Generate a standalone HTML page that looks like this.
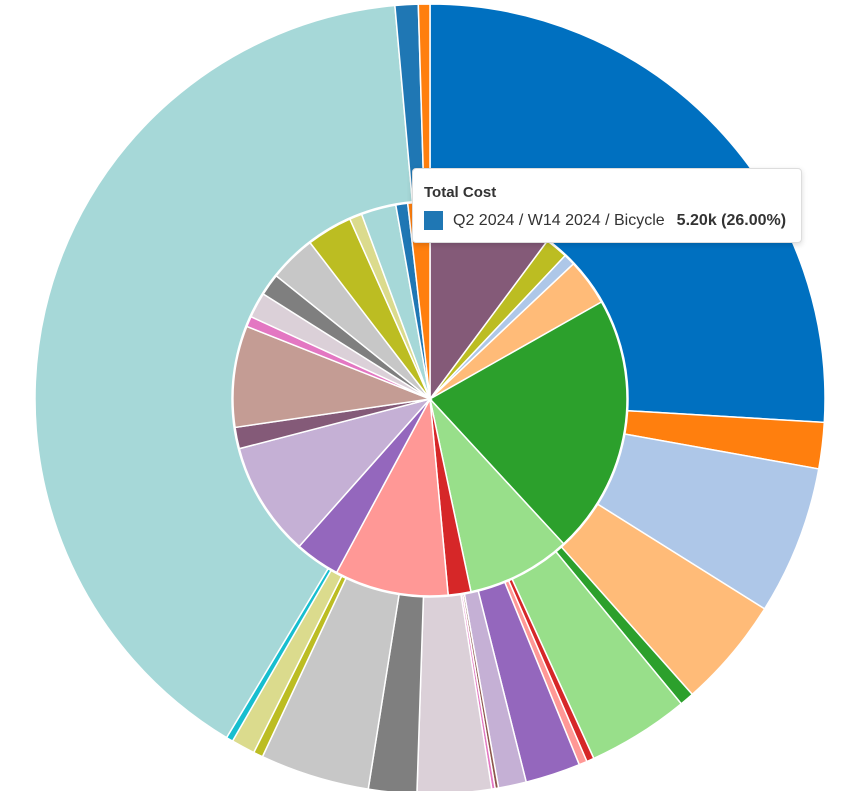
<!DOCTYPE html>
<html><head><meta charset="utf-8"><style>
body{margin:0;background:#fff;width:861px;height:791px;overflow:hidden;font-family:"Liberation Sans",sans-serif}
#tt{position:absolute;left:412px;top:168px;width:390px;height:75px;background:#fff;border:1px solid #ddd;border-radius:4px;box-shadow:0 2px 6px rgba(0,0,0,.15);box-sizing:border-box}
</style></head><body>
<svg id="s" width="861" height="791" style="position:absolute;left:0;top:0"></svg>
<div id="tt">
<div style="position:absolute;left:11px;top:15px;font-size:15px;font-weight:bold;color:#333">Total Cost</div>
<div style="position:absolute;left:11px;top:42px;width:19px;height:19px;background:#1f77b4"></div>
<div style="position:absolute;left:40px;top:43px;font-size:16px;color:#333;white-space:nowrap">Q2 2024 / W14 2024 / Bicycle<b style="margin-left:12px">5.20k (26.00%)</b></div>
</div>
<script>
var cx=430,cy=399,s=document.getElementById('s');
function p(a,r){a=a*Math.PI/180;return [cx+r*Math.sin(a),cy-r*Math.cos(a)];}
function arc(a0,a1,r0,r1,c){var l=(a1-a0)>180?1:0,A=p(a0,r1),B=p(a1,r1),d;
if(r0==0){d='M'+cx+','+cy+'L'+A+'A'+r1+','+r1+' 0 '+l+' 1 '+B+'Z';}
else{var C=p(a1,r0),D=p(a0,r0);d='M'+A+'A'+r1+','+r1+' 0 '+l+' 1 '+B+'L'+C+'A'+r0+','+r0+' 0 '+l+' 0 '+D+'Z';}
s.innerHTML+='<path d="'+d+'" fill="'+c+'" stroke="#fff" stroke-width="1.5"/>';}
var outer=[[0,93.4,'#0070c0'],[93.4,100.2,'#ff7f0e'],[100.2,122.1,'#aec7e8'],[122.1,138.4,'#ffbb78'],[138.4,140.5,'#2ca02c'],[140.5,155.5,'#98df8a'],[155.5,156.6,'#d62728'],[156.6,157.8,'#ff9896'],[157.8,165.9,'#9467bd'],[165.9,170,'#c5b0d5'],[170,170.5,'#8c564b'],[170.5,171,'#e377c2'],[171,181.9,'#dbd0d8'],[181.9,189,'#7f7f7f'],[189,205.1,'#c7c7c7'],[205.1,206.5,'#bcbd22'],[206.5,210,'#dbdb8d'],[210,211,'#17becf'],[211,354.9,'#a6d8d8'],[354.9,358.3,'#1f77b4'],[358.3,360,'#ff7f0e']];
outer.forEach(function(o){arc(o[0],o[1],198,395,o[2]);});
var inner=[[0,36.6,'#845a78'],[36.6,43.3,'#bcbd22'],[43.3,46.7,'#aec7e8'],[46.7,60.5,'#ffbb78'],[60.5,137.3,'#2ca02c'],[137.3,168,'#98df8a'],[168,174.7,'#d62728'],[174.7,208.3,'#ff9896'],[208.3,221.6,'#9467bd'],[221.6,255.4,'#c5b0d5'],[255.4,261.7,'#845a78'],[261.7,291.6,'#c49c94'],[291.6,294.7,'#e377c2'],[294.7,302.2,'#dbd0d8'],[302.2,308.7,'#7f7f7f'],[308.7,322.5,'#c7c7c7'],[322.5,336,'#bcbd22'],[336,339.7,'#dbdb8d'],[339.7,350,'#a6d8d8'],[350,353.5,'#1f77b4'],[353.5,360,'#ff7f0e']];
inner.forEach(function(o){arc(o[0],o[1],0,197,o[2]);});
</script>
</body></html>
